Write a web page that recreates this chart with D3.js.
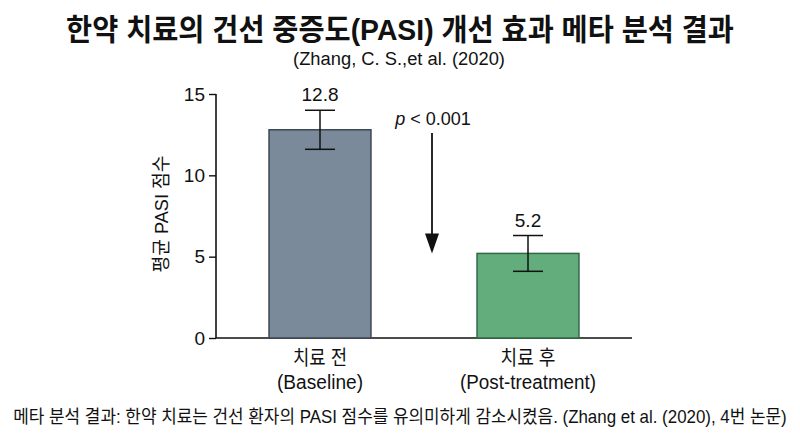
<!DOCTYPE html>
<html>
<head>
<meta charset="utf-8">
<script src="https://cdn.jsdelivr.net/npm/d3@7"></script>
<style>
  html, body { margin: 0; padding: 0; background: #fff; }
  svg { display: block; }
  text { font-family: "Liberation Sans", "Noto Sans CJK KR", sans-serif; fill: #111; }
</style>
</head>
<body>
<svg id="chart" width="800" height="436"></svg>
<script>
// 막대 데이터
const categories = ["치료 전", "치료 후"];
const subLabels = ["(Baseline)", "(Post-treatment)"];
const means = [12.8, 5.2];
const errors = [1.2, 1.1];
const valueLabels = ["12.8", "5.2"];
const yTicks = [0, 5, 10, 15];

const fills = ["#7a8a9b", "#62ad7b"];
const strokes = ["#3c4650", "#2f6a44"];

const svg = d3.select("#chart");

// 스케일
const x = d3.scaleBand()
    .domain(categories)
    .range([216, 632])
    .paddingInner(0.51)
    .paddingOuter(0.255);

const y = d3.scaleLinear()
    .domain([0, 15])
    .range([338, 94]);

// 원본 글꼴이 좁아서 가로 방향으로만 눌러서 폭을 맞춤
function fitText(sel, cx, cy, width) {
    const len = sel.node().getComputedTextLength();
    sel.attr("x", 0).attr("y", 0)
        .attr("text-anchor", "middle")
        .attr("transform", `translate(${cx},${cy}) scale(${width / len},1)`);
}

// 제목
const title = svg.append("text")
    .attr("font-size", 30).attr("font-weight", "bold")
    .text("한약 치료의 건선 중증도(PASI) 개선 효과 메타 분석 결과");
fitText(title, 400, 40, 668);

const subtitle = svg.append("text")
    .attr("font-size", 18)
    .text("(Zhang, C. S.,et al. (2020)");
fitText(subtitle, 399, 65, 212);

// y축
const yAxis = svg.append("g")
    .attr("transform", "translate(216,0)")
    .call(d3.axisLeft(y).tickValues(yTicks).tickSize(7).tickPadding(4));
yAxis.select(".domain").attr("d", `M0,${y(15)}V${y(0)}`).attr("stroke", "#111").attr("stroke-width", 1.6);
yAxis.selectAll(".tick line").attr("stroke", "#111").attr("stroke-width", 1.4);
yAxis.selectAll(".tick text")
    .attr("font-size", 19)
    .attr("fill", "#111")
    .style("font-family", "'Liberation Sans', sans-serif");

// x축 기준선
svg.append("line")
    .attr("x1", 216).attr("x2", 632)
    .attr("y1", y(0)).attr("y2", y(0))
    .attr("stroke", "#111").attr("stroke-width", 1.6);

// y축 제목
svg.append("text")
    .attr("transform", `translate(168,${(y(0) + y(15)) / 2 - 2}) rotate(-90)`)
    .attr("text-anchor", "middle")
    .attr("font-size", 19)
    .attr("textLength", 117).attr("lengthAdjust", "spacingAndGlyphs")
    .text("평균 PASI 점수");

// 막대
svg.selectAll("rect.bar")
    .data(categories)
    .enter().append("rect")
    .attr("class", "bar")
    .attr("x", d => x(d))
    .attr("width", x.bandwidth())
    .attr("y", (d, i) => y(means[i]))
    .attr("height", (d, i) => y(0) - y(means[i]))
    .attr("fill", (d, i) => fills[i])
    .attr("stroke", (d, i) => strokes[i])
    .attr("stroke-width", 1.5);

// 오차 막대
const eb = svg.selectAll("g.err")
    .data(categories)
    .enter().append("g")
    .attr("class", "err")
    .attr("stroke", "#111")
    .attr("stroke-width", 1.5);

eb.append("line")
    .attr("x1", d => x(d) + x.bandwidth() / 2)
    .attr("x2", d => x(d) + x.bandwidth() / 2)
    .attr("y1", (d, i) => y(means[i] + errors[i]))
    .attr("y2", (d, i) => y(means[i] - errors[i]));
eb.append("line")
    .attr("x1", d => x(d) + x.bandwidth() / 2 - 15)
    .attr("x2", d => x(d) + x.bandwidth() / 2 + 15)
    .attr("y1", (d, i) => y(means[i] + errors[i]))
    .attr("y2", (d, i) => y(means[i] + errors[i]));
eb.append("line")
    .attr("x1", d => x(d) + x.bandwidth() / 2 - 15)
    .attr("x2", d => x(d) + x.bandwidth() / 2 + 15)
    .attr("y1", (d, i) => y(means[i] - errors[i]))
    .attr("y2", (d, i) => y(means[i] - errors[i]));

// 값 라벨
svg.selectAll("text.val")
    .data(categories)
    .enter().append("text")
    .attr("class", "val")
    .attr("x", d => x(d) + x.bandwidth() / 2)
    .attr("y", (d, i) => y(means[i] + errors[i]) - 9)
    .attr("text-anchor", "middle")
    .attr("font-size", 19)
    .text((d, i) => valueLabels[i]);

// 범주 라벨
const catWidths = [54, 55];
svg.selectAll("text.cat")
    .data(categories)
    .enter().append("text")
    .attr("class", "cat")
    .attr("x", d => x(d) + x.bandwidth() / 2)
    .attr("y", 365)
    .attr("text-anchor", "middle")
    .attr("font-size", 20)
    .attr("textLength", (d, i) => catWidths[i])
    .attr("lengthAdjust", "spacingAndGlyphs")
    .text(d => d);

const subWidths = [86, 136];
svg.selectAll("text.sub")
    .data(categories)
    .enter().append("text")
    .attr("class", "sub")
    .attr("x", d => x(d) + x.bandwidth() / 2)
    .attr("y", 389)
    .attr("text-anchor", "middle")
    .attr("font-size", 20)
    .attr("textLength", (d, i) => subWidths[i])
    .attr("lengthAdjust", "spacingAndGlyphs")
    .text((d, i) => subLabels[i]);

// 유의성 화살표
const arrowX = (x(categories[0]) + x.bandwidth() + x(categories[1])) / 2 + 8;
const arrowTop = y(12.6), arrowTip = y(5.2);
svg.append("line")
    .attr("x1", arrowX).attr("x2", arrowX)
    .attr("y1", arrowTop).attr("y2", arrowTip - 16)
    .attr("stroke", "#111").attr("stroke-width", 1.8);
svg.append("path")
    .attr("d", `M${arrowX - 7},${arrowTip - 20}L${arrowX + 7},${arrowTip - 20}L${arrowX},${arrowTip}Z`)
    .attr("fill", "#111");

const pText = svg.append("text")
    .attr("x", arrowX + 1).attr("y", 125)
    .attr("text-anchor", "middle")
    .attr("font-size", 18);
pText.append("tspan").attr("font-style", "italic").text("p");
pText.append("tspan").text(" < 0.001");

// 하단 설명
const caption = svg.append("text")
    .attr("font-size", 18)
    .text("메타 분석 결과: 한약 치료는 건선 환자의 PASI 점수를 유의미하게 감소시켰음. (Zhang et al. (2020), 4번 논문)");
fitText(caption, 400, 423, 774);
</script>
</body>
</html>
